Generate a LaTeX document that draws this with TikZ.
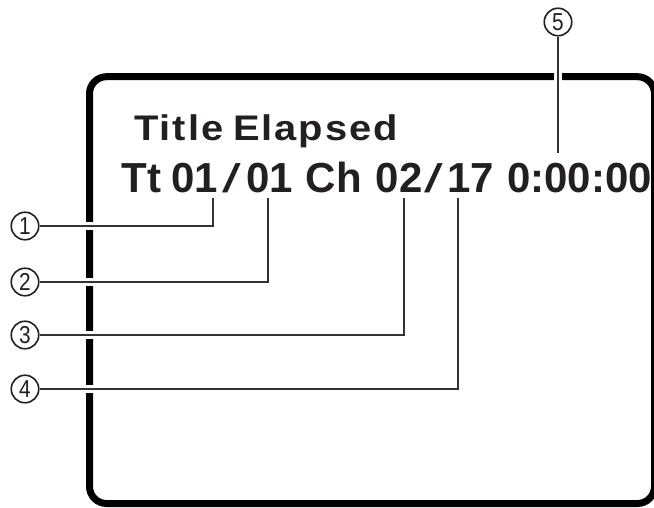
\documentclass[tikz,border=0pt]{standalone}
\usepackage{fontspec}
\setmainfont{Liberation Sans}
\newfontfamily\titlefont[LetterSpace=5]{Liberation Sans}

\definecolor{ink}{HTML}{231F20}
\definecolor{lead}{HTML}{333333}

\tikzset{
  osd/.style={anchor=base west, inner sep=0pt, text=ink,
    font=\fontsize{42}{42}\selectfont\bfseries},
  osdslash/.style={anchor=base west, inner sep=0pt, text=ink,
    font=\fontsize{42}{42}\selectfont},
  callout/.style={circle, draw=ink, line width=1.6pt, minimum size=27.5pt,
    inner sep=0pt, text=ink, font=\fontsize{24.5}{24}\selectfont},
  leader/.style={draw=lead, line width=2pt, preaction={draw=white, line width=8pt}},
}

\begin{document}
\begin{tikzpicture}[x=1pt, y=-1pt]
  \useasboundingbox (0,0) rectangle (654,508);

  % screen frame
  \draw [line width=7pt, rounded corners=17pt] (89.5,76.7) rectangle (654.5,503.5);

  % on-screen display
  \node [osd, font=\titlefont\fontsize{35.6}{36}\selectfont\bfseries] (title) at (134,140.5)
    {\scalebox{1.12}[1]{Title\hspace{-3pt} Elapsed}};

  \node [osd] (tt) at (121.5,193) {Tt};
  \node [osd] (tnow) at (171,193) {01};
  \node [osdslash] (tslash) at (222.5,193) {\scalebox{1.6}[0.95]{/}};
  \node [osd] (ttot) at (246,193) {01};
  \node [osd] (ch) at (305.5,193) {Ch};
  \node [osd] (cnow) at (375.5,193) {02};
  \node [osdslash] (cslash) at (424,193) {\scalebox{1.6}[0.95]{/}};
  \node [osd] (ctot) at (447,193) {17};
  \node [osd] (time) at (507,193) {0:00:00};

  % callouts
  \node [callout] (c1) at (25,226) {\scalebox{0.85}[1]{1}};
  \node [callout] (c2) at (25,282) {\scalebox{0.85}[1]{2}};
  \node [callout] (c3) at (25,335) {\scalebox{0.85}[1]{3}};
  \node [callout] (c4) at (25,389) {\scalebox{0.85}[1]{4}};
  \node [callout] (c5) at (558,22) {\scalebox{0.85}[1]{5}};

  \coordinate (l1) at (213,198);
  \coordinate (l2) at (268,198);
  \coordinate (l3) at (404,198);
  \coordinate (l4) at (457.5,198);
  \coordinate (l5) at (558,153);

  \path [leader] (c1.east) -| (l1);
  \path [leader] (c2.east) -| (l2);
  \path [leader] (c3.east) -| (l3);
  \path [leader] (c4.east) -| (l4);
  \path [leader] (c5.south) -- (l5);
\end{tikzpicture}
\end{document}
